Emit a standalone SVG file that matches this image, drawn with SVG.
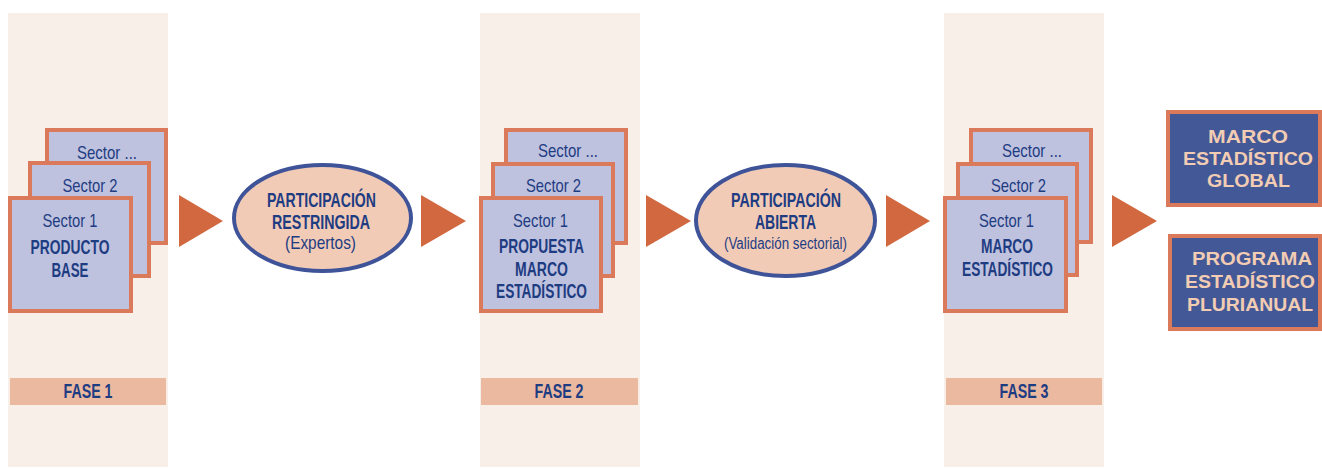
<svg xmlns="http://www.w3.org/2000/svg" width="1322" height="469" viewBox="0 0 1322 469">
<style>
.panel{fill:#f9efe9}
.sbox{fill:#bec2df;stroke:#db7a5a;stroke-width:4}
.ell{fill:#f2cbb6;stroke:#3e5398;stroke-width:4}
.bar{fill:#ebb8a0}
.obox{fill:#435896;stroke:#db7a5a;stroke-width:4}
.arrow{fill:#d2683f}
text{font-family:"Liberation Sans",Arial,sans-serif;text-anchor:middle;fill:#1e3c82}
.r{font-size:19px}
.b{font-size:21px;font-weight:bold}
.s{font-size:16px}
.o{font-size:19px;font-weight:bold;fill:#f2ccb3}
</style>
<rect width="1322" height="469" fill="#ffffff"/>
<g id="panels">
<rect class="panel" x="8" y="13" width="160" height="454"/>
<rect class="panel" x="480" y="13" width="160" height="454"/>
<rect class="panel" x="944" y="13" width="160" height="454"/>
</g>
<g id="fase1">
<rect class="bar" x="10" y="378" width="156" height="27"/>
<text class="b" x="88" y="398" textLength="49" lengthAdjust="spacingAndGlyphs">FASE 1</text>
</g>
<g id="fase2">
<rect class="bar" x="481" y="378" width="157" height="27"/>
<text class="b" x="559" y="398" textLength="49" lengthAdjust="spacingAndGlyphs">FASE 2</text>
</g>
<g id="fase3">
<rect class="bar" x="946" y="378" width="156" height="27"/>
<text class="b" x="1024" y="398" textLength="49" lengthAdjust="spacingAndGlyphs">FASE 3</text>
</g>
<g id="producto-base">
<rect class="sbox" x="47" y="130" width="119" height="113"/>
<text class="r" x="107" y="159" textLength="60" lengthAdjust="spacingAndGlyphs">Sector ...</text>
<rect class="sbox" x="30" y="163" width="119" height="113"/>
<text class="r" x="90" y="192" textLength="55" lengthAdjust="spacingAndGlyphs">Sector 2</text>
<rect class="sbox" x="10" y="198" width="121" height="113"/>
<text class="r" x="70" y="227" textLength="55" lengthAdjust="spacingAndGlyphs">Sector 1</text>
<text class="b" x="70" y="254" textLength="79" lengthAdjust="spacingAndGlyphs">PRODUCTO</text>
<text class="b" x="70" y="277" textLength="37" lengthAdjust="spacingAndGlyphs">BASE</text>
</g>
<g id="participacion-restringida">
<ellipse class="ell" cx="322.5" cy="218" rx="88.5" ry="53"/>
<text class="b" x="321.5" y="207" textLength="109" lengthAdjust="spacingAndGlyphs">PARTICIPACIÓN</text>
<text class="b" x="321" y="229" textLength="98" lengthAdjust="spacingAndGlyphs">RESTRINGIDA</text>
<text class="r" x="320.5" y="249" textLength="71" lengthAdjust="spacingAndGlyphs">(Expertos)</text>
</g>
<g id="propuesta-marco">
<rect class="sbox" x="506" y="130" width="120" height="113"/>
<text class="r" x="568" y="157" textLength="60" lengthAdjust="spacingAndGlyphs">Sector ...</text>
<rect class="sbox" x="493" y="164" width="120" height="112"/>
<text class="r" x="553.5" y="192" textLength="55" lengthAdjust="spacingAndGlyphs">Sector 2</text>
<rect class="sbox" x="481" y="198" width="120" height="113"/>
<text class="r" x="540.5" y="227" textLength="55" lengthAdjust="spacingAndGlyphs">Sector 1</text>
<text class="b" x="541.5" y="253" textLength="85" lengthAdjust="spacingAndGlyphs">PROPUESTA</text>
<text class="b" x="541.5" y="276" textLength="53" lengthAdjust="spacingAndGlyphs">MARCO</text>
<text class="b" x="541.5" y="298" textLength="91" lengthAdjust="spacingAndGlyphs">ESTADÍSTICO</text>
</g>
<g id="participacion-abierta">
<ellipse class="ell" cx="785.5" cy="220.5" rx="89.5" ry="55.5"/>
<text class="b" x="786" y="207" textLength="110" lengthAdjust="spacingAndGlyphs">PARTICIPACIÓN</text>
<text class="b" x="785.5" y="229" textLength="61" lengthAdjust="spacingAndGlyphs">ABIERTA</text>
<text class="s" x="785.5" y="249" textLength="123" lengthAdjust="spacingAndGlyphs">(Validación sectorial)</text>
</g>
<g id="marco-estadistico">
<rect class="sbox" x="971" y="130" width="120" height="112"/>
<text class="r" x="1032" y="157" textLength="60" lengthAdjust="spacingAndGlyphs">Sector ...</text>
<rect class="sbox" x="958" y="164" width="119" height="111"/>
<text class="r" x="1018.5" y="192" textLength="55" lengthAdjust="spacingAndGlyphs">Sector 2</text>
<rect class="sbox" x="945" y="198" width="121" height="113"/>
<text class="r" x="1006.5" y="227" textLength="55" lengthAdjust="spacingAndGlyphs">Sector 1</text>
<text class="b" x="1007" y="253" textLength="52" lengthAdjust="spacingAndGlyphs">MARCO</text>
<text class="b" x="1007.5" y="276" textLength="91" lengthAdjust="spacingAndGlyphs">ESTADÍSTICO</text>
</g>
<g id="marco-global">
<rect class="obox" x="1168" y="112" width="152" height="93"/>
<text class="o" x="1248" y="143" textLength="80" lengthAdjust="spacingAndGlyphs">MARCO</text>
<text class="o" x="1248" y="165" textLength="130" lengthAdjust="spacingAndGlyphs">ESTADÍSTICO</text>
<text class="o" x="1248.5" y="187" textLength="83" lengthAdjust="spacingAndGlyphs">GLOBAL</text>
</g>
<g id="programa-plurianual">
<rect class="obox" x="1170" y="236" width="150" height="93"/>
<text class="o" x="1252" y="265" textLength="120" lengthAdjust="spacingAndGlyphs">PROGRAMA</text>
<text class="o" x="1250" y="288" textLength="130" lengthAdjust="spacingAndGlyphs">ESTADÍSTICO</text>
<text class="o" x="1250" y="311" textLength="126" lengthAdjust="spacingAndGlyphs">PLURIANUAL</text>
</g>
<g id="connectors">
<polygon class="arrow" points="179,195 223,221 179,247"/>
<polygon class="arrow" points="421,195 466,221 421,247"/>
<polygon class="arrow" points="646,195 691,221 646,247"/>
<polygon class="arrow" points="886,195 930,221 886,247"/>
<polygon class="arrow" points="1112,195 1157,221 1112,247"/>
</g>
</svg>
